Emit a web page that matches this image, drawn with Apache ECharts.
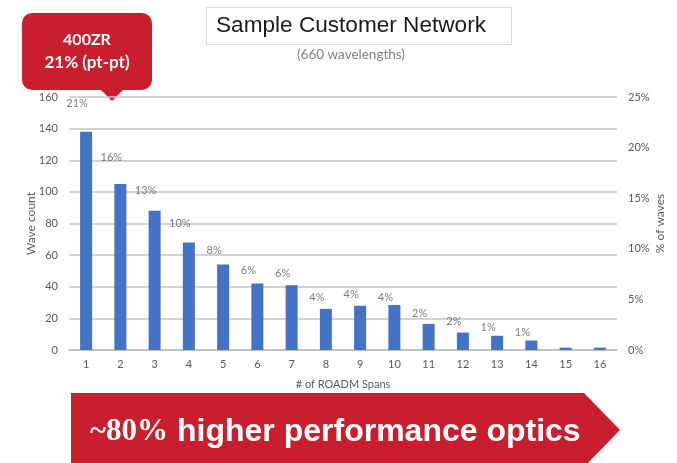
<!DOCTYPE html>
<html>
<head>
<meta charset="utf-8">
<script src="https://cdn.jsdelivr.net/npm/echarts@6/dist/echarts.min.js"></script>
<style>
  html, body { margin: 0; padding: 0; background: #fff; }
  #chart { width: 677px; height: 463px; }
</style>
</head>
<body>
<div id="chart"></div>
<script>
const spans = ['1','2','3','4','5','6','7','8','9','10','11','12','13','14','15','16']
const waveCount = [138, 105, 88, 68, 54, 42, 41, 26, 28, 28.5, 16.5, 11, 9, 6, 1.5, 1.5]
// where the % labels sit and their text
const pctPos = [20.9, 16.2, 13.3, 10.4, 8.1, 6.3, 6.1, 4.0, 4.2, 4.0, 2.6, 1.9, 1.4, 0.9, null, null]
const pctText = ['21%','16%','13%','10%','8%','6%','6%','4%','4%','4%','2%','2%','1%','1%','','']
const rightTicks = [0, 5, 10, 15, 20, 25]

const red = '#c81e2e'
const grey = '#595959'
const font = 'Lato'

const chart = echarts.init(document.getElementById('chart'))

const option = {
  animation: false,
  title: [
    {
      text: 'Sample Customer Network',
      left: 206, top: 8,
      padding: [7, 26, 7, 10],
      borderColor: '#d9d9d9', borderWidth: 1,
      textStyle: { fontFamily: 'Liberation Sans', fontSize: 22.6, fontWeight: 'normal', color: '#1a1a1a', lineHeight: 22 }
    },
    {
      text: '(660 wavelengths)',
      left: 292, top: 43,
      textStyle: { fontFamily: font, fontSize: 13.5, fontWeight: 'normal', color: '#7f7f7f' }
    }
  ],
  grid: { left: 69, right: 60, top: 97, bottom: 113, outerBoundsMode: 'none' },
  xAxis: {
    type: 'category',
    data: spans,
    name: '# of ROADM Spans',
    nameLocation: 'middle',
    nameGap: 29,
    nameMoveOverlap: false,
    nameTextStyle: { fontFamily: font, fontSize: 11, color: grey },
    axisLine: { lineStyle: { color: '#bfbfbf', width: 1.5 } },
    axisTick: { show: false },
    axisLabel: { fontFamily: font, fontSize: 11, color: grey, margin: 9 }
  },
  yAxis: [
    {
      type: 'value', min: 0, max: 160, interval: 20,
      name: 'Wave count', nameLocation: 'middle', nameGap: 32,
      nameMoveOverlap: false,
      nameTextStyle: { fontFamily: font, fontSize: 12, color: grey },
      axisLine: { show: false }, axisTick: { show: false },
      axisLabel: { fontFamily: font, fontSize: 11, color: grey, margin: 11 },
      splitLine: { lineStyle: { color: '#c4c4c4', width: 1.5 } }
    },
    {
      type: 'value', min: rightTicks[0], max: rightTicks[rightTicks.length - 1], interval: 5,
      position: 'right',
      name: '% of waves', nameLocation: 'middle', nameGap: 37,
      nameMoveOverlap: false,
      nameTextStyle: { fontFamily: font, fontSize: 12, color: grey },
      axisLine: { show: false }, axisTick: { show: false },
      axisLabel: { fontFamily: font, fontSize: 11, color: grey, margin: 11, formatter: '{value}%' },
      splitLine: { show: false }
    },
    { type: 'value', min: 0, max: 22.1, show: false }
  ],
  series: [
    {
      type: 'bar',
      data: waveCount,
      barWidth: 12,
      itemStyle: { color: '#4472c4' }
    },
    {
      type: 'scatter',
      yAxisIndex: 2,
      data: pctPos,
      symbolSize: 1,
      itemStyle: { color: 'rgba(0,0,0,0)' },
      label: {
        show: true, position: 'top', distance: 5, offset: [-9, 4],
        fontFamily: font, fontSize: 11, color: grey,
        formatter: p => pctText[p.dataIndex]
      },
      z: 5
    }
  ],
  graphic: [
    // callout
    { type: 'rect', shape: { x: 22, y: 13, width: 130, height: 77, r: 10 }, style: { fill: red } },
    { type: 'polygon', shape: { points: [[100, 89], [124, 89], [112, 101]] }, style: { fill: red } },
    { type: 'text', x: 87, y: 40, style: { text: '400ZR', fill: '#fff', font: 'bold 16px Lato', align: 'center', verticalAlign: 'middle' } },
    { type: 'text', x: 87, y: 63, style: { text: '21% (pt-pt)', fill: '#fff', font: 'bold 17px Lato', align: 'center', verticalAlign: 'middle' } },
    // bottom banner
    { type: 'polygon', shape: { points: [[71, 393], [584, 393], [620, 430], [584, 467], [71, 467]] }, style: { fill: red } },
    {
      type: 'text', x: 90, y: 432,
      style: {
        text: '{a|~80%}{b| higher performance optics}',
        verticalAlign: 'middle',
        rich: {
          a: { fontFamily: 'Liberation Serif', fontWeight: 'bold', fontSize: 31, fill: '#fff' },
          b: { fontFamily: 'Liberation Sans', fontWeight: 'bold', fontSize: 32, fill: '#fff' }
        }
      }
    }
  ]
}

chart.setOption(option)
</script>
</body>
</html>
